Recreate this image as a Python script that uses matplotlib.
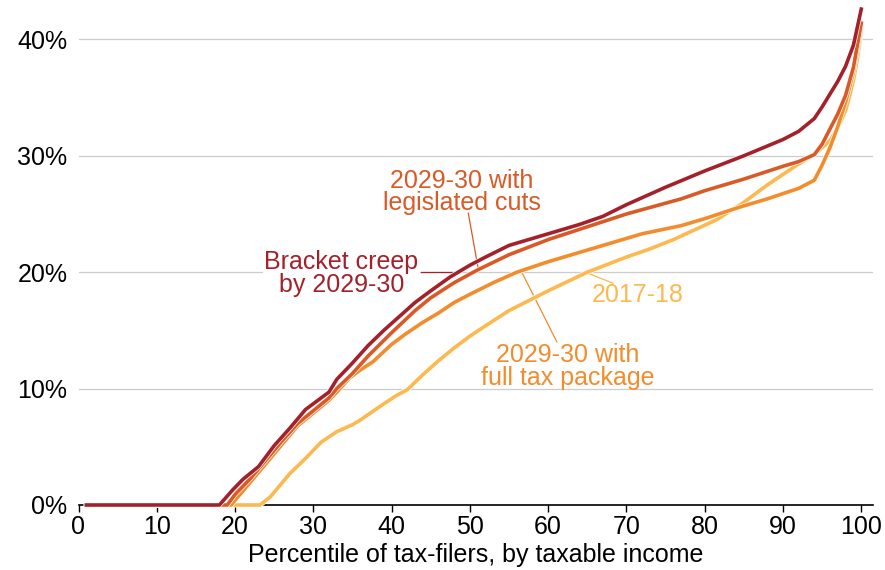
import matplotlib
matplotlib.use("Agg")
import matplotlib.pyplot as plt
import matplotlib.patheffects as pe

plt.rcParams['font.family'] = ['Liberation Sans', 'DejaVu Sans']

# average tax rate by percentile of tax-filers
creep_x = [1, 18, 19.7, 21, 23, 25, 27, 29, 30, 32, 33, 35, 37, 39, 41, 43, 45, 47.5,
           50, 52, 55, 60, 64, 67, 70, 75, 80, 85, 90, 92, 94, 95, 96, 97, 98, 99, 100]
creep_y = [0, 0, 1.3, 2.2, 3.3, 5.1, 6.6, 8.2, 8.7, 9.7, 10.8, 12.2, 13.7, 15.0, 16.2, 17.4, 18.4, 19.6,
           20.6, 21.3, 22.3, 23.3, 24.1, 24.8, 25.8, 27.3, 28.7, 30.0, 31.4, 32.1, 33.2, 34.2, 35.3, 36.4, 37.7, 39.5, 42.6]

legis_x = [1, 19, 20, 22, 24, 26, 28, 30, 32, 33, 35, 37, 40, 43, 45, 48, 51, 55,
           60, 65, 70, 77, 80, 85, 90, 92, 94, 95, 96, 97, 98, 99, 100]
legis_y = [0, 0, 0.9, 2.3, 3.9, 5.5, 7.0, 8.1, 9.2, 10.0, 11.3, 12.8, 14.8, 16.7, 17.8, 19.1, 20.2, 21.5,
           22.8, 23.9, 25.0, 26.3, 27.0, 28.0, 29.1, 29.5, 30.1, 31.0, 32.3, 33.6, 35.2, 37.6, 41.4]

full_x = [1, 19.5, 20.5, 22, 24, 26, 28, 30, 32, 33, 34.6, 36, 37.6, 40, 41.8, 44, 46, 48, 50,
          53, 56, 60, 64, 68, 72, 77, 80, 84.5, 88, 92, 94, 95, 96, 97, 98, 99, 100]
full_y = [0, 0, 0.8, 2.0, 3.6, 5.2, 6.8, 7.9, 9.0, 9.7, 10.9, 11.6, 12.3, 13.8, 14.7, 15.7, 16.5, 17.4, 18.1,
          19.1, 20.0, 20.9, 21.7, 22.5, 23.3, 24.0, 24.6, 25.6, 26.3, 27.2, 27.9, 29.2, 30.7, 32.5, 34.6, 37.2, 41.0]

base_x = [1, 23.2, 24.5, 26, 27, 29, 31, 33, 35, 36, 38.8, 40.6, 42, 44, 46, 48, 50, 52, 55,
          60, 65, 70, 73, 76, 81.5, 85, 88, 92, 94, 96, 97, 98, 98.5, 99, 99.5, 100]
base_y = [0, 0, 0.7, 1.9, 2.7, 4.0, 5.4, 6.3, 6.9, 7.3, 8.6, 9.4, 9.9, 11.2, 12.4, 13.5, 14.5, 15.4, 16.7,
          18.4, 20.0, 21.3, 22.0, 22.8, 24.5, 26.0, 27.5, 29.3, 30.1, 31.3, 32.4, 33.9, 35.1, 36.5, 38.3, 40.8]

c_creep = '#a3212b'
c_legis = '#d95a27'
c_full = '#f28c2c'
c_base = '#fdb84f'

fig = plt.figure(figsize=(8.85, 5.70), dpi=100)
ax = fig.add_axes([78.5/885, 65/570, (873-78.5)/885, 505/570])

outline = [pe.Stroke(linewidth=3.6, foreground='white'), pe.Normal()]
ax.plot(base_x, base_y, color=c_base, lw=2.6, path_effects=outline, zorder=3, clip_on=False)
ax.plot(full_x, full_y, color=c_full, lw=2.6, path_effects=outline, zorder=4, clip_on=False)
ax.plot(legis_x, legis_y, color=c_legis, lw=2.6, path_effects=outline, zorder=5, clip_on=False)
ax.plot(creep_x, creep_y, color=c_creep, lw=2.6, path_effects=outline, zorder=6, clip_on=False)

ax.set_xlim(0, 101.5)
ax.set_ylim(0, 505/11.64)
ax.set_xticks(range(0, 101, 10))
ax.set_yticks([0, 10, 20, 30, 40])
ax.set_yticklabels(['0%', '10%', '20%', '30%', '40%'])
ax.grid(axis='y', color='#cccccc', lw=0.9)
ax.set_axisbelow(True)
for s in ['top', 'right', 'left']:
    ax.spines[s].set_visible(False)
ax.spines['bottom'].set_color('black')
ax.spines['bottom'].set_linewidth(1.2)
ax.spines['bottom'].set_zorder(2)
ax.tick_params(axis='y', length=0, pad=8, labelsize=18)
ax.tick_params(axis='x', length=5, width=1, pad=2, labelsize=18)
ax.set_xlabel('Percentile of tax-filers, by taxable income', fontsize=18, labelpad=3)

# labels with leader lines
fs = 18
ax.text(49.0, 26.9, '2029-30 with\nlegislated cuts', color=c_legis, fontsize=fs,
        ha='center', va='center', linespacing=0.92)
ax.plot([49.8, 51.1], [25.06, 20.19], color=c_legis, lw=0.9)
ax.text(33.6, 19.9, 'Bracket creep\nby 2029-30', color=c_creep, fontsize=fs,
        ha='center', va='center', linespacing=0.92,
        bbox=dict(facecolor='white', edgecolor='none', pad=1))
ax.plot([43.8, 48.5], [20.04, 20.04], color=c_creep, lw=0.9)
ax.text(71.4, 18.0, '2017-18', color=c_base, fontsize=fs, ha='center', va='center')
ax.plot([64.9, 68.3], [19.96, 19.05], color=c_base, lw=0.9)
ax.text(62.5, 11.9, '2029-30 with\nfull tax package', color=c_full, fontsize=fs,
        ha='center', va='center', linespacing=0.92)
ax.plot([56.6, 61.1], [20.04, 14.03], color=c_full, lw=0.9)

fig.savefig('out.png', dpi=100)
